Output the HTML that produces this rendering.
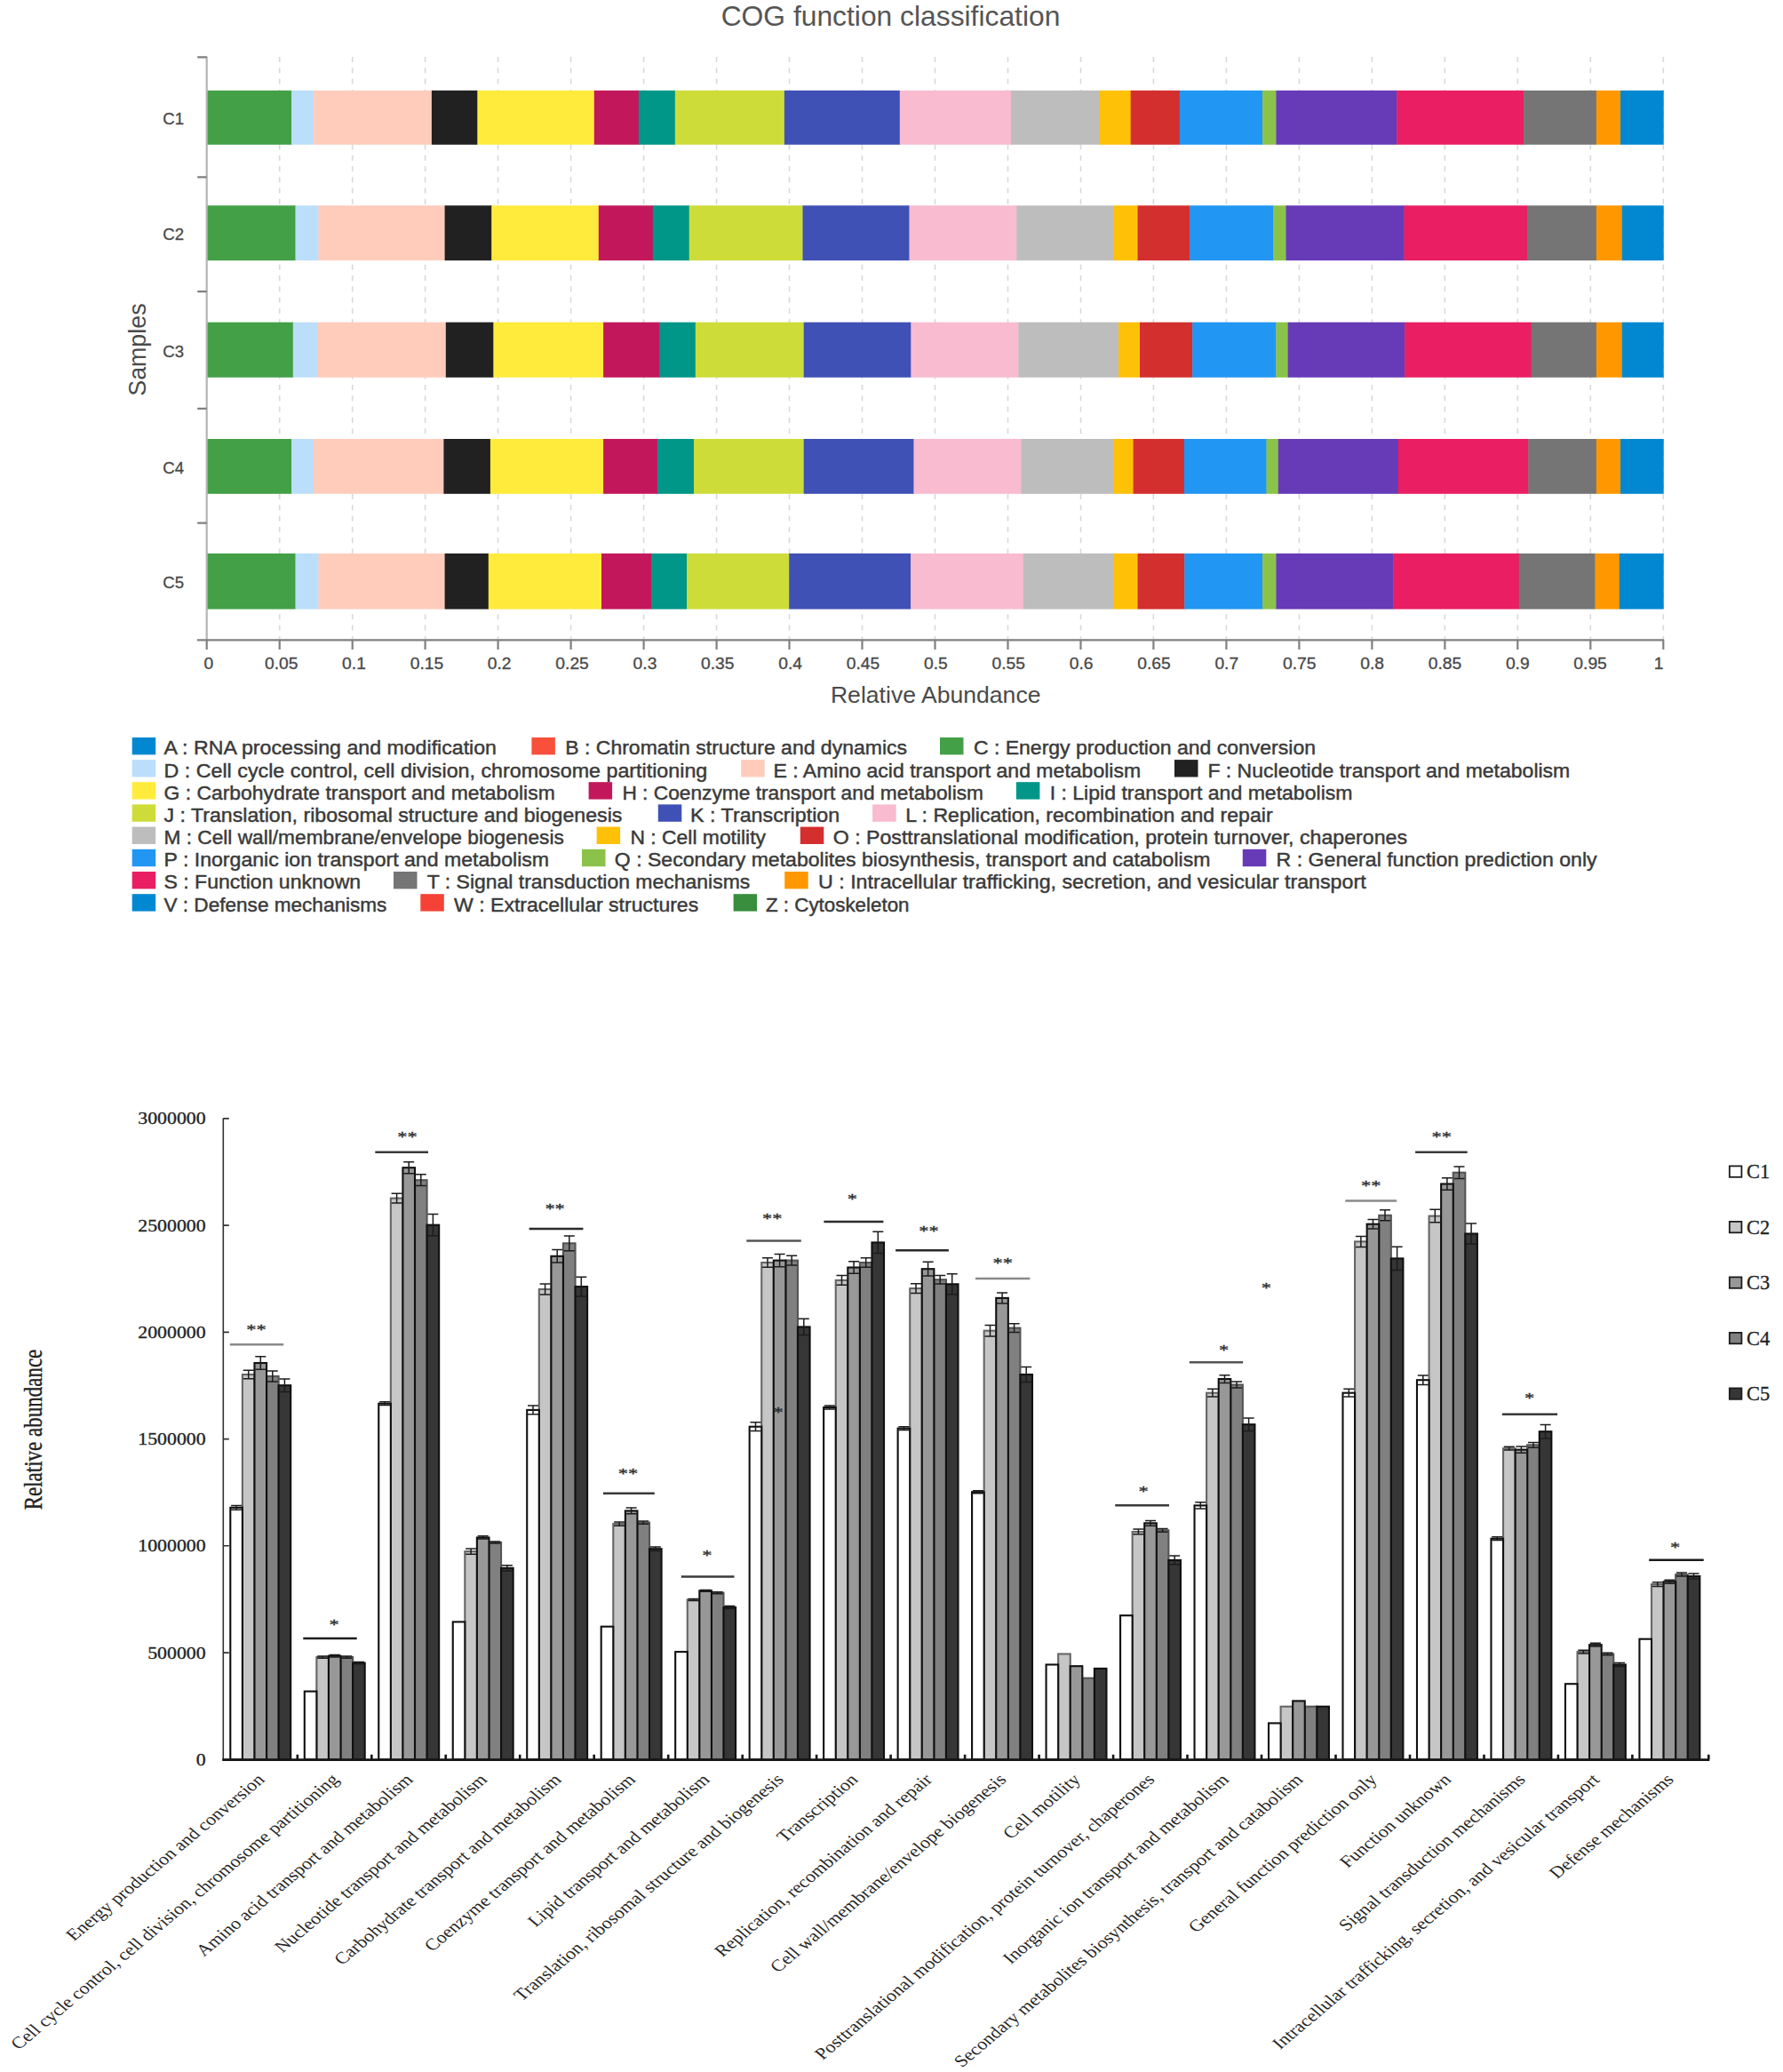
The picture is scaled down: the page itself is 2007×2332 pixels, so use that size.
<!DOCTYPE html>
<html lang="en"><head><meta charset="utf-8"><title>COG function classification</title>
<style>html,body{margin:0;padding:0;background:#fff}svg{display:block}.s{font-family:"Liberation Sans",Arial,sans-serif}.t{font-family:"Liberation Serif","Times New Roman",serif}.t text{stroke:#222;stroke-width:.3px}</style></head><body>
<svg width="2007" height="2332" viewBox="0 0 2007 2332">
<rect width="2007" height="2332" fill="#fff"/>
<g class="s">
<text x="1002.5" y="28.8" font-size="31.8" text-anchor="middle" fill="#555">COG function classification</text>
<path d="M314.7 64.0V720.3M396.7 64.0V720.3M478.6 64.0V720.3M560.6 64.0V720.3M642.6 64.0V720.3M724.6 64.0V720.3M806.6 64.0V720.3M888.5 64.0V720.3M970.5 64.0V720.3M1052.5 64.0V720.3M1134.5 64.0V720.3M1216.5 64.0V720.3M1298.4 64.0V720.3M1380.4 64.0V720.3M1462.4 64.0V720.3M1544.4 64.0V720.3M1626.4 64.0V720.3M1708.3 64.0V720.3M1790.3 64.0V720.3M1872.3 64.0V720.3" stroke="#d8d9e0" stroke-width="1.6" stroke-dasharray="6 6.3" fill="none"/>
<rect x="232.7" y="101.8" width="95.8" height="61.0" fill="#43A047"/>
<rect x="328.1" y="101.8" width="25.4" height="61.0" fill="#BBDEFB"/>
<rect x="353.1" y="101.8" width="133.2" height="61.0" fill="#FFCCBC"/>
<rect x="485.9" y="101.8" width="51.9" height="61.0" fill="#212121"/>
<rect x="537.4" y="101.8" width="131.8" height="61.0" fill="#FFEB3B"/>
<rect x="668.8" y="101.8" width="50.5" height="61.0" fill="#C2185B"/>
<rect x="718.9" y="101.8" width="41.3" height="61.0" fill="#009688"/>
<rect x="759.8" y="101.8" width="123.5" height="61.0" fill="#CDDC39"/>
<rect x="882.9" y="101.8" width="130.3" height="61.0" fill="#3F51B5"/>
<rect x="1012.8" y="101.8" width="125.6" height="61.0" fill="#F8BBD0"/>
<rect x="1138.0" y="101.8" width="100.0" height="61.0" fill="#BDBDBD"/>
<rect x="1237.6" y="101.8" width="35.5" height="61.0" fill="#FFC107"/>
<rect x="1272.7" y="101.8" width="55.4" height="61.0" fill="#D32F2F"/>
<rect x="1327.7" y="101.8" width="93.8" height="61.0" fill="#2196F3"/>
<rect x="1421.1" y="101.8" width="15.7" height="61.0" fill="#8BC34A"/>
<rect x="1436.4" y="101.8" width="136.3" height="61.0" fill="#673AB7"/>
<rect x="1572.3" y="101.8" width="143.2" height="61.0" fill="#E91E63"/>
<rect x="1715.1" y="101.8" width="82.2" height="61.0" fill="#757575"/>
<rect x="1796.9" y="101.8" width="27.5" height="61.0" fill="#FF9800"/>
<rect x="1824.0" y="101.8" width="48.7" height="61.0" fill="#0288D1"/>
<rect x="232.7" y="231.3" width="100.2" height="61.9" fill="#43A047"/>
<rect x="332.5" y="231.3" width="26.3" height="61.9" fill="#BBDEFB"/>
<rect x="358.4" y="231.3" width="142.6" height="61.9" fill="#FFCCBC"/>
<rect x="500.6" y="231.3" width="53.1" height="61.9" fill="#212121"/>
<rect x="553.3" y="231.3" width="120.9" height="61.9" fill="#FFEB3B"/>
<rect x="673.8" y="231.3" width="61.4" height="61.9" fill="#C2185B"/>
<rect x="734.8" y="231.3" width="41.3" height="61.9" fill="#009688"/>
<rect x="775.7" y="231.3" width="128.2" height="61.9" fill="#CDDC39"/>
<rect x="903.5" y="231.3" width="120.4" height="61.9" fill="#3F51B5"/>
<rect x="1023.5" y="231.3" width="121.2" height="61.9" fill="#F8BBD0"/>
<rect x="1144.3" y="231.3" width="109.9" height="61.9" fill="#BDBDBD"/>
<rect x="1253.8" y="231.3" width="27.2" height="61.9" fill="#FFC107"/>
<rect x="1280.6" y="231.3" width="59.0" height="61.9" fill="#D32F2F"/>
<rect x="1339.2" y="231.3" width="94.5" height="61.9" fill="#2196F3"/>
<rect x="1433.3" y="231.3" width="14.6" height="61.9" fill="#8BC34A"/>
<rect x="1447.5" y="231.3" width="133.4" height="61.9" fill="#673AB7"/>
<rect x="1580.5" y="231.3" width="138.8" height="61.9" fill="#E91E63"/>
<rect x="1718.9" y="231.3" width="78.4" height="61.9" fill="#757575"/>
<rect x="1796.9" y="231.3" width="29.3" height="61.9" fill="#FF9800"/>
<rect x="1825.8" y="231.3" width="46.9" height="61.9" fill="#0288D1"/>
<rect x="232.7" y="362.7" width="97.5" height="62.1" fill="#43A047"/>
<rect x="329.8" y="362.7" width="27.5" height="62.1" fill="#BBDEFB"/>
<rect x="356.9" y="362.7" width="145.3" height="62.1" fill="#FFCCBC"/>
<rect x="501.8" y="362.7" width="54.0" height="62.1" fill="#212121"/>
<rect x="555.4" y="362.7" width="124.1" height="62.1" fill="#FFEB3B"/>
<rect x="679.1" y="362.7" width="63.8" height="62.1" fill="#C2185B"/>
<rect x="742.5" y="362.7" width="40.7" height="62.1" fill="#009688"/>
<rect x="782.8" y="362.7" width="122.3" height="62.1" fill="#CDDC39"/>
<rect x="904.7" y="362.7" width="121.1" height="62.1" fill="#3F51B5"/>
<rect x="1025.4" y="362.7" width="121.3" height="62.1" fill="#F8BBD0"/>
<rect x="1146.3" y="362.7" width="113.2" height="62.1" fill="#BDBDBD"/>
<rect x="1259.1" y="362.7" width="24.3" height="62.1" fill="#FFC107"/>
<rect x="1283.0" y="362.7" width="59.6" height="62.1" fill="#D32F2F"/>
<rect x="1342.2" y="362.7" width="94.5" height="62.1" fill="#2196F3"/>
<rect x="1436.3" y="362.7" width="13.8" height="62.1" fill="#8BC34A"/>
<rect x="1449.7" y="362.7" width="131.8" height="62.1" fill="#673AB7"/>
<rect x="1581.1" y="362.7" width="142.9" height="62.1" fill="#E91E63"/>
<rect x="1723.6" y="362.7" width="73.7" height="62.1" fill="#757575"/>
<rect x="1796.9" y="362.7" width="29.3" height="62.1" fill="#FF9800"/>
<rect x="1825.8" y="362.7" width="46.9" height="62.1" fill="#0288D1"/>
<rect x="232.7" y="494.0" width="95.8" height="61.8" fill="#43A047"/>
<rect x="328.1" y="494.0" width="25.1" height="61.8" fill="#BBDEFB"/>
<rect x="352.8" y="494.0" width="147.0" height="61.8" fill="#FFCCBC"/>
<rect x="499.4" y="494.0" width="52.9" height="61.8" fill="#212121"/>
<rect x="551.9" y="494.0" width="127.6" height="61.8" fill="#FFEB3B"/>
<rect x="679.1" y="494.0" width="61.4" height="61.8" fill="#C2185B"/>
<rect x="740.1" y="494.0" width="41.3" height="61.8" fill="#009688"/>
<rect x="781.0" y="494.0" width="124.1" height="61.8" fill="#CDDC39"/>
<rect x="904.7" y="494.0" width="124.2" height="61.8" fill="#3F51B5"/>
<rect x="1028.5" y="494.0" width="121.2" height="61.8" fill="#F8BBD0"/>
<rect x="1149.3" y="494.0" width="104.9" height="61.8" fill="#BDBDBD"/>
<rect x="1253.8" y="494.0" width="22.2" height="61.8" fill="#FFC107"/>
<rect x="1275.6" y="494.0" width="57.8" height="61.8" fill="#D32F2F"/>
<rect x="1333.0" y="494.0" width="92.9" height="61.8" fill="#2196F3"/>
<rect x="1425.5" y="494.0" width="13.7" height="61.8" fill="#8BC34A"/>
<rect x="1438.8" y="494.0" width="135.3" height="61.8" fill="#673AB7"/>
<rect x="1573.7" y="494.0" width="147.1" height="61.8" fill="#E91E63"/>
<rect x="1720.4" y="494.0" width="76.9" height="61.8" fill="#757575"/>
<rect x="1796.9" y="494.0" width="27.5" height="61.8" fill="#FF9800"/>
<rect x="1824.0" y="494.0" width="48.7" height="61.8" fill="#0288D1"/>
<rect x="232.7" y="622.9" width="100.2" height="62.7" fill="#43A047"/>
<rect x="332.5" y="622.9" width="26.3" height="62.7" fill="#BBDEFB"/>
<rect x="358.4" y="622.9" width="142.6" height="62.7" fill="#FFCCBC"/>
<rect x="500.6" y="622.9" width="49.6" height="62.7" fill="#212121"/>
<rect x="549.8" y="622.9" width="127.6" height="62.7" fill="#FFEB3B"/>
<rect x="677.0" y="622.9" width="56.4" height="62.7" fill="#C2185B"/>
<rect x="733.0" y="622.9" width="40.5" height="62.7" fill="#009688"/>
<rect x="773.1" y="622.9" width="115.5" height="62.7" fill="#CDDC39"/>
<rect x="888.2" y="622.9" width="137.3" height="62.7" fill="#3F51B5"/>
<rect x="1025.1" y="622.9" width="127.2" height="62.7" fill="#F8BBD0"/>
<rect x="1151.9" y="622.9" width="102.3" height="62.7" fill="#BDBDBD"/>
<rect x="1253.8" y="622.9" width="27.2" height="62.7" fill="#FFC107"/>
<rect x="1280.6" y="622.9" width="53.1" height="62.7" fill="#D32F2F"/>
<rect x="1333.3" y="622.9" width="88.2" height="62.7" fill="#2196F3"/>
<rect x="1421.1" y="622.9" width="15.7" height="62.7" fill="#8BC34A"/>
<rect x="1436.4" y="622.9" width="132.4" height="62.7" fill="#673AB7"/>
<rect x="1568.4" y="622.9" width="141.8" height="62.7" fill="#E91E63"/>
<rect x="1709.8" y="622.9" width="86.1" height="62.7" fill="#757575"/>
<rect x="1795.5" y="622.9" width="27.7" height="62.7" fill="#FF9800"/>
<rect x="1822.8" y="622.9" width="49.9" height="62.7" fill="#0288D1"/>
<path d="M232.7 63.5V720.3" stroke="#b4b4b4" stroke-width="2.2" fill="none"/>
<path d="M221.89999999999998 720.3H1873.1M222.2 64.3H232.7M222.2 199.3H232.7M222.2 328.2H232.7M222.2 459.8H232.7M222.2 588.6H232.7M232.7 720.3V731.0999999999999M314.7 720.3V731.0999999999999M396.7 720.3V731.0999999999999M478.6 720.3V731.0999999999999M560.6 720.3V731.0999999999999M642.6 720.3V731.0999999999999M724.6 720.3V731.0999999999999M806.6 720.3V731.0999999999999M888.5 720.3V731.0999999999999M970.5 720.3V731.0999999999999M1052.5 720.3V731.0999999999999M1134.5 720.3V731.0999999999999M1216.5 720.3V731.0999999999999M1298.4 720.3V731.0999999999999M1380.4 720.3V731.0999999999999M1462.4 720.3V731.0999999999999M1544.4 720.3V731.0999999999999M1626.4 720.3V731.0999999999999M1708.3 720.3V731.0999999999999M1790.3 720.3V731.0999999999999M1872.3 720.3V731.0999999999999" stroke="#808080" stroke-width="2.2" fill="none"/>
<text transform="translate(234.8 752.8) scale(1.07 1)" font-size="18" text-anchor="middle" fill="#484848" stroke="#484848" stroke-width="0.3">0</text>
<text transform="translate(316.7 752.8) scale(1.07 1)" font-size="18" text-anchor="middle" fill="#484848" stroke="#484848" stroke-width="0.3">0.05</text>
<text transform="translate(398.5 752.8) scale(1.07 1)" font-size="18" text-anchor="middle" fill="#484848" stroke="#484848" stroke-width="0.3">0.1</text>
<text transform="translate(480.4 752.8) scale(1.07 1)" font-size="18" text-anchor="middle" fill="#484848" stroke="#484848" stroke-width="0.3">0.15</text>
<text transform="translate(562.2 752.8) scale(1.07 1)" font-size="18" text-anchor="middle" fill="#484848" stroke="#484848" stroke-width="0.3">0.2</text>
<text transform="translate(644.1 752.8) scale(1.07 1)" font-size="18" text-anchor="middle" fill="#484848" stroke="#484848" stroke-width="0.3">0.25</text>
<text transform="translate(726.0 752.8) scale(1.07 1)" font-size="18" text-anchor="middle" fill="#484848" stroke="#484848" stroke-width="0.3">0.3</text>
<text transform="translate(807.8 752.8) scale(1.07 1)" font-size="18" text-anchor="middle" fill="#484848" stroke="#484848" stroke-width="0.3">0.35</text>
<text transform="translate(889.7 752.8) scale(1.07 1)" font-size="18" text-anchor="middle" fill="#484848" stroke="#484848" stroke-width="0.3">0.4</text>
<text transform="translate(971.5 752.8) scale(1.07 1)" font-size="18" text-anchor="middle" fill="#484848" stroke="#484848" stroke-width="0.3">0.45</text>
<text transform="translate(1053.4 752.8) scale(1.07 1)" font-size="18" text-anchor="middle" fill="#484848" stroke="#484848" stroke-width="0.3">0.5</text>
<text transform="translate(1135.3 752.8) scale(1.07 1)" font-size="18" text-anchor="middle" fill="#484848" stroke="#484848" stroke-width="0.3">0.55</text>
<text transform="translate(1217.1 752.8) scale(1.07 1)" font-size="18" text-anchor="middle" fill="#484848" stroke="#484848" stroke-width="0.3">0.6</text>
<text transform="translate(1299.0 752.8) scale(1.07 1)" font-size="18" text-anchor="middle" fill="#484848" stroke="#484848" stroke-width="0.3">0.65</text>
<text transform="translate(1380.8 752.8) scale(1.07 1)" font-size="18" text-anchor="middle" fill="#484848" stroke="#484848" stroke-width="0.3">0.7</text>
<text transform="translate(1462.7 752.8) scale(1.07 1)" font-size="18" text-anchor="middle" fill="#484848" stroke="#484848" stroke-width="0.3">0.75</text>
<text transform="translate(1544.6 752.8) scale(1.07 1)" font-size="18" text-anchor="middle" fill="#484848" stroke="#484848" stroke-width="0.3">0.8</text>
<text transform="translate(1626.4 752.8) scale(1.07 1)" font-size="18" text-anchor="middle" fill="#484848" stroke="#484848" stroke-width="0.3">0.85</text>
<text transform="translate(1708.3 752.8) scale(1.07 1)" font-size="18" text-anchor="middle" fill="#484848" stroke="#484848" stroke-width="0.3">0.9</text>
<text transform="translate(1790.1 752.8) scale(1.07 1)" font-size="18" text-anchor="middle" fill="#484848" stroke="#484848" stroke-width="0.3">0.95</text>
<text transform="translate(1867.0 752.8) scale(1.07 1)" font-size="18" text-anchor="middle" fill="#484848" stroke="#484848" stroke-width="0.3">1</text>
<text x="207" y="140.3" font-size="18.6" text-anchor="end" fill="#484848" stroke="#484848" stroke-width="0.3">C1</text>
<text x="207" y="270.2" font-size="18.6" text-anchor="end" fill="#484848" stroke="#484848" stroke-width="0.3">C2</text>
<text x="207" y="401.8" font-size="18.6" text-anchor="end" fill="#484848" stroke="#484848" stroke-width="0.3">C3</text>
<text x="207" y="532.9" font-size="18.6" text-anchor="end" fill="#484848" stroke="#484848" stroke-width="0.3">C4</text>
<text x="207" y="662.2" font-size="18.6" text-anchor="end" fill="#484848" stroke="#484848" stroke-width="0.3">C5</text>
<text transform="translate(163.6 393.6) rotate(-90)" font-size="26.8" text-anchor="middle" fill="#4a4a4a">Samples</text>
<text x="1053.2" y="790.8" font-size="26.6" text-anchor="middle" fill="#4a4a4a">Relative Abundance</text>
<rect x="148.7" y="830.0" width="26.5" height="19.4" fill="#0288D1"/>
<text x="184.5" y="849.4" font-size="22.6" textLength="374.5" lengthAdjust="spacingAndGlyphs" fill="#3a3a3a" stroke="#3a3a3a" stroke-width="0.45">A : RNA processing and modification</text>
<rect x="598.4" y="830.0" width="26.5" height="19.4" fill="#F8503A"/>
<text x="636.3" y="849.4" font-size="22.6" textLength="384.7" lengthAdjust="spacingAndGlyphs" fill="#3a3a3a" stroke="#3a3a3a" stroke-width="0.45">B : Chromatin structure and dynamics</text>
<rect x="1058.0" y="830.0" width="26.5" height="19.4" fill="#43A047"/>
<text x="1095.9" y="849.4" font-size="22.6" textLength="385.1" lengthAdjust="spacingAndGlyphs" fill="#3a3a3a" stroke="#3a3a3a" stroke-width="0.45">C : Energy production and conversion</text>
<rect x="148.7" y="855.1" width="26.5" height="19.4" fill="#BBDEFB"/>
<text x="184.5" y="874.5" font-size="22.6" textLength="611.8" lengthAdjust="spacingAndGlyphs" fill="#3a3a3a" stroke="#3a3a3a" stroke-width="0.45">D : Cell cycle control, cell division, chromosome partitioning</text>
<rect x="834.2" y="855.1" width="26.5" height="19.4" fill="#FFCCBC"/>
<text x="870.5" y="874.5" font-size="22.6" textLength="413.7" lengthAdjust="spacingAndGlyphs" fill="#3a3a3a" stroke="#3a3a3a" stroke-width="0.45">E : Amino acid transport and metabolism</text>
<rect x="1322.0" y="855.1" width="26.5" height="19.4" fill="#212121"/>
<text x="1359.4" y="874.5" font-size="22.6" textLength="407.9" lengthAdjust="spacingAndGlyphs" fill="#3a3a3a" stroke="#3a3a3a" stroke-width="0.45">F : Nucleotide transport and metabolism</text>
<rect x="148.7" y="880.2" width="26.5" height="19.4" fill="#FFEB3B"/>
<text x="184.5" y="899.6" font-size="22.6" textLength="440.2" lengthAdjust="spacingAndGlyphs" fill="#3a3a3a" stroke="#3a3a3a" stroke-width="0.45">G : Carbohydrate transport and metabolism</text>
<rect x="662.6" y="880.2" width="26.5" height="19.4" fill="#C2185B"/>
<text x="700.4" y="899.6" font-size="22.6" textLength="406.6" lengthAdjust="spacingAndGlyphs" fill="#3a3a3a" stroke="#3a3a3a" stroke-width="0.45">H : Coenzyme transport and metabolism</text>
<rect x="1143.9" y="880.2" width="26.5" height="19.4" fill="#009688"/>
<text x="1181.7" y="899.6" font-size="22.6" textLength="340.8" lengthAdjust="spacingAndGlyphs" fill="#3a3a3a" stroke="#3a3a3a" stroke-width="0.45">I : Lipid transport and metabolism</text>
<rect x="148.7" y="905.4" width="26.5" height="19.4" fill="#CDDC39"/>
<text x="184.5" y="924.8" font-size="22.6" textLength="515.9" lengthAdjust="spacingAndGlyphs" fill="#3a3a3a" stroke="#3a3a3a" stroke-width="0.45">J : Translation, ribosomal structure and biogenesis</text>
<rect x="740.8" y="905.4" width="26.5" height="19.4" fill="#3F51B5"/>
<text x="777.1" y="924.8" font-size="22.6" textLength="168.1" lengthAdjust="spacingAndGlyphs" fill="#3a3a3a" stroke="#3a3a3a" stroke-width="0.45">K : Transcription</text>
<rect x="982.1" y="905.4" width="26.5" height="19.4" fill="#F8BBD0"/>
<text x="1019.2" y="924.8" font-size="22.6" textLength="413.4" lengthAdjust="spacingAndGlyphs" fill="#3a3a3a" stroke="#3a3a3a" stroke-width="0.45">L : Replication, recombination and repair</text>
<rect x="148.7" y="930.6" width="26.5" height="19.4" fill="#BDBDBD"/>
<text x="184.5" y="950.0" font-size="22.6" textLength="450.3" lengthAdjust="spacingAndGlyphs" fill="#3a3a3a" stroke="#3a3a3a" stroke-width="0.45">M : Cell wall/membrane/envelope biogenesis</text>
<rect x="671.6" y="930.6" width="26.5" height="19.4" fill="#FFC107"/>
<text x="709.5" y="950.0" font-size="22.6" textLength="152.5" lengthAdjust="spacingAndGlyphs" fill="#3a3a3a" stroke="#3a3a3a" stroke-width="0.45">N : Cell motility</text>
<rect x="900.8" y="930.6" width="26.5" height="19.4" fill="#D32F2F"/>
<text x="937.7" y="950.0" font-size="22.6" textLength="646.3" lengthAdjust="spacingAndGlyphs" fill="#3a3a3a" stroke="#3a3a3a" stroke-width="0.45">O : Posttranslational modification, protein turnover, chaperones</text>
<rect x="148.7" y="955.8" width="26.5" height="19.4" fill="#2196F3"/>
<text x="184.5" y="975.2" font-size="22.6" textLength="433.6" lengthAdjust="spacingAndGlyphs" fill="#3a3a3a" stroke="#3a3a3a" stroke-width="0.45">P : Inorganic ion transport and metabolism</text>
<rect x="655.0" y="955.8" width="26.5" height="19.4" fill="#8BC34A"/>
<text x="691.8" y="975.2" font-size="22.6" textLength="670.6" lengthAdjust="spacingAndGlyphs" fill="#3a3a3a" stroke="#3a3a3a" stroke-width="0.45">Q : Secondary metabolites biosynthesis, transport and catabolism</text>
<rect x="1398.8" y="955.8" width="26.5" height="19.4" fill="#673AB7"/>
<text x="1436.6" y="975.2" font-size="22.6" textLength="361.0" lengthAdjust="spacingAndGlyphs" fill="#3a3a3a" stroke="#3a3a3a" stroke-width="0.45">R : General function prediction only</text>
<rect x="148.7" y="981.0" width="26.5" height="19.4" fill="#E91E63"/>
<text x="184.5" y="1000.4" font-size="22.6" textLength="221.6" lengthAdjust="spacingAndGlyphs" fill="#3a3a3a" stroke="#3a3a3a" stroke-width="0.45">S : Function unknown</text>
<rect x="443.0" y="981.0" width="26.5" height="19.4" fill="#757575"/>
<text x="480.8" y="1000.4" font-size="22.6" textLength="363.5" lengthAdjust="spacingAndGlyphs" fill="#3a3a3a" stroke="#3a3a3a" stroke-width="0.45">T : Signal transduction mechanisms</text>
<rect x="883.2" y="981.0" width="26.5" height="19.4" fill="#FF9800"/>
<text x="921.0" y="1000.4" font-size="22.6" textLength="616.6" lengthAdjust="spacingAndGlyphs" fill="#3a3a3a" stroke="#3a3a3a" stroke-width="0.45">U : Intracellular trafficking, secretion, and vesicular transport</text>
<rect x="148.7" y="1006.2" width="26.5" height="19.4" fill="#0288D1"/>
<text x="184.5" y="1025.6" font-size="22.6" textLength="250.9" lengthAdjust="spacingAndGlyphs" fill="#3a3a3a" stroke="#3a3a3a" stroke-width="0.45">V : Defense mechanisms</text>
<rect x="473.3" y="1006.2" width="26.5" height="19.4" fill="#F44336"/>
<text x="511.1" y="1025.6" font-size="22.6" textLength="275.1" lengthAdjust="spacingAndGlyphs" fill="#3a3a3a" stroke="#3a3a3a" stroke-width="0.45">W : Extracellular structures</text>
<rect x="825.6" y="1006.2" width="26.5" height="19.4" fill="#388E3C"/>
<text x="862.0" y="1025.6" font-size="22.6" textLength="161.5" lengthAdjust="spacingAndGlyphs" fill="#3a3a3a" stroke="#3a3a3a" stroke-width="0.45">Z : Cytoskeleton</text>
</g>
<g class="t">
<rect x="272.88" y="1547.0" width="13.58" height="433.3" fill="#c6c6c6" stroke="#666" stroke-width="2.1"/>
<rect x="300.04" y="1548.9" width="13.58" height="431.4" fill="#808080" stroke="#555" stroke-width="2.1"/>
<rect x="259.30" y="1696.8" width="13.58" height="283.5" fill="#ffffff" stroke="#101010" stroke-width="2.1"/>
<rect x="286.46" y="1534.0" width="13.58" height="446.3" fill="#989898" stroke="#101010" stroke-width="2.1"/>
<rect x="313.62" y="1559.2" width="13.58" height="421.1" fill="#363636" stroke="#101010" stroke-width="2.1"/>
<rect x="356.36" y="1865.1" width="13.58" height="115.2" fill="#c6c6c6" stroke="#666" stroke-width="2.1"/>
<rect x="383.52" y="1865.1" width="13.58" height="115.2" fill="#808080" stroke="#555" stroke-width="2.1"/>
<rect x="342.78" y="1903.6" width="13.58" height="76.7" fill="#ffffff" stroke="#101010" stroke-width="2.1"/>
<rect x="369.94" y="1863.7" width="13.58" height="116.6" fill="#989898" stroke="#101010" stroke-width="2.1"/>
<rect x="397.10" y="1871.6" width="13.58" height="108.7" fill="#363636" stroke="#101010" stroke-width="2.1"/>
<rect x="439.84" y="1348.6" width="13.58" height="631.7" fill="#c6c6c6" stroke="#666" stroke-width="2.1"/>
<rect x="467.00" y="1328.2" width="13.58" height="652.1" fill="#808080" stroke="#555" stroke-width="2.1"/>
<rect x="426.26" y="1579.7" width="13.58" height="400.6" fill="#ffffff" stroke="#101010" stroke-width="2.1"/>
<rect x="453.42" y="1314.2" width="13.58" height="666.1" fill="#989898" stroke="#101010" stroke-width="2.1"/>
<rect x="480.58" y="1378.7" width="13.58" height="601.6" fill="#363636" stroke="#101010" stroke-width="2.1"/>
<rect x="523.32" y="1746.1" width="13.58" height="234.2" fill="#c6c6c6" stroke="#666" stroke-width="2.1"/>
<rect x="550.48" y="1736.0" width="13.58" height="244.3" fill="#808080" stroke="#555" stroke-width="2.1"/>
<rect x="509.74" y="1825.4" width="13.58" height="154.9" fill="#ffffff" stroke="#101010" stroke-width="2.1"/>
<rect x="536.90" y="1730.5" width="13.58" height="249.8" fill="#989898" stroke="#101010" stroke-width="2.1"/>
<rect x="564.06" y="1764.8" width="13.58" height="215.5" fill="#363636" stroke="#101010" stroke-width="2.1"/>
<rect x="606.80" y="1451.0" width="13.58" height="529.3" fill="#c6c6c6" stroke="#666" stroke-width="2.1"/>
<rect x="633.96" y="1399.3" width="13.58" height="581.0" fill="#808080" stroke="#555" stroke-width="2.1"/>
<rect x="593.22" y="1586.9" width="13.58" height="393.4" fill="#ffffff" stroke="#101010" stroke-width="2.1"/>
<rect x="620.38" y="1413.8" width="13.58" height="566.5" fill="#989898" stroke="#101010" stroke-width="2.1"/>
<rect x="647.54" y="1448.1" width="13.58" height="532.2" fill="#363636" stroke="#101010" stroke-width="2.1"/>
<rect x="690.28" y="1715.1" width="13.58" height="265.2" fill="#c6c6c6" stroke="#666" stroke-width="2.1"/>
<rect x="717.44" y="1713.6" width="13.58" height="266.7" fill="#808080" stroke="#555" stroke-width="2.1"/>
<rect x="676.70" y="1830.7" width="13.58" height="149.6" fill="#ffffff" stroke="#101010" stroke-width="2.1"/>
<rect x="703.86" y="1700.4" width="13.58" height="279.9" fill="#989898" stroke="#101010" stroke-width="2.1"/>
<rect x="731.02" y="1743.2" width="13.58" height="237.1" fill="#363636" stroke="#101010" stroke-width="2.1"/>
<rect x="773.76" y="1800.4" width="13.58" height="179.9" fill="#c6c6c6" stroke="#666" stroke-width="2.1"/>
<rect x="800.92" y="1792.7" width="13.58" height="187.6" fill="#808080" stroke="#555" stroke-width="2.1"/>
<rect x="760.18" y="1859.1" width="13.58" height="121.2" fill="#ffffff" stroke="#101010" stroke-width="2.1"/>
<rect x="787.34" y="1790.3" width="13.58" height="190.0" fill="#989898" stroke="#101010" stroke-width="2.1"/>
<rect x="814.50" y="1809.1" width="13.58" height="171.2" fill="#363636" stroke="#101010" stroke-width="2.1"/>
<rect x="857.24" y="1421.0" width="13.58" height="559.3" fill="#c6c6c6" stroke="#666" stroke-width="2.1"/>
<rect x="884.40" y="1418.6" width="13.58" height="561.7" fill="#808080" stroke="#555" stroke-width="2.1"/>
<rect x="843.66" y="1605.7" width="13.58" height="374.6" fill="#ffffff" stroke="#101010" stroke-width="2.1"/>
<rect x="870.82" y="1418.6" width="13.58" height="561.7" fill="#989898" stroke="#101010" stroke-width="2.1"/>
<rect x="897.98" y="1493.4" width="13.58" height="486.9" fill="#363636" stroke="#101010" stroke-width="2.1"/>
<rect x="940.72" y="1440.9" width="13.58" height="539.4" fill="#c6c6c6" stroke="#666" stroke-width="2.1"/>
<rect x="967.88" y="1421.0" width="13.58" height="559.3" fill="#808080" stroke="#555" stroke-width="2.1"/>
<rect x="927.14" y="1584.0" width="13.58" height="396.3" fill="#ffffff" stroke="#101010" stroke-width="2.1"/>
<rect x="954.30" y="1426.5" width="13.58" height="553.8" fill="#989898" stroke="#101010" stroke-width="2.1"/>
<rect x="981.46" y="1398.4" width="13.58" height="581.9" fill="#363636" stroke="#101010" stroke-width="2.1"/>
<rect x="1024.20" y="1450.1" width="13.58" height="530.2" fill="#c6c6c6" stroke="#666" stroke-width="2.1"/>
<rect x="1051.36" y="1440.2" width="13.58" height="540.1" fill="#808080" stroke="#555" stroke-width="2.1"/>
<rect x="1010.62" y="1607.6" width="13.58" height="372.7" fill="#ffffff" stroke="#101010" stroke-width="2.1"/>
<rect x="1037.78" y="1428.2" width="13.58" height="552.1" fill="#989898" stroke="#101010" stroke-width="2.1"/>
<rect x="1064.94" y="1445.3" width="13.58" height="535.0" fill="#363636" stroke="#101010" stroke-width="2.1"/>
<rect x="1107.68" y="1497.7" width="13.58" height="482.6" fill="#c6c6c6" stroke="#666" stroke-width="2.1"/>
<rect x="1134.84" y="1494.6" width="13.58" height="485.7" fill="#808080" stroke="#555" stroke-width="2.1"/>
<rect x="1094.10" y="1679.2" width="13.58" height="301.1" fill="#ffffff" stroke="#101010" stroke-width="2.1"/>
<rect x="1121.26" y="1460.9" width="13.58" height="519.4" fill="#989898" stroke="#101010" stroke-width="2.1"/>
<rect x="1148.42" y="1547.0" width="13.58" height="433.3" fill="#363636" stroke="#101010" stroke-width="2.1"/>
<rect x="1191.16" y="1861.5" width="13.58" height="118.8" fill="#c6c6c6" stroke="#666" stroke-width="2.1"/>
<rect x="1218.32" y="1888.7" width="13.58" height="91.6" fill="#808080" stroke="#555" stroke-width="2.1"/>
<rect x="1177.58" y="1873.5" width="13.58" height="106.8" fill="#ffffff" stroke="#101010" stroke-width="2.1"/>
<rect x="1204.74" y="1875.2" width="13.58" height="105.1" fill="#989898" stroke="#101010" stroke-width="2.1"/>
<rect x="1231.90" y="1877.9" width="13.58" height="102.4" fill="#363636" stroke="#101010" stroke-width="2.1"/>
<rect x="1274.64" y="1724.0" width="13.58" height="256.3" fill="#c6c6c6" stroke="#666" stroke-width="2.1"/>
<rect x="1301.80" y="1722.3" width="13.58" height="258.0" fill="#808080" stroke="#555" stroke-width="2.1"/>
<rect x="1261.06" y="1818.2" width="13.58" height="162.1" fill="#ffffff" stroke="#101010" stroke-width="2.1"/>
<rect x="1288.22" y="1714.3" width="13.58" height="266.0" fill="#989898" stroke="#101010" stroke-width="2.1"/>
<rect x="1315.38" y="1755.9" width="13.58" height="224.4" fill="#363636" stroke="#101010" stroke-width="2.1"/>
<rect x="1358.12" y="1567.7" width="13.58" height="412.6" fill="#c6c6c6" stroke="#666" stroke-width="2.1"/>
<rect x="1385.28" y="1558.5" width="13.58" height="421.8" fill="#808080" stroke="#555" stroke-width="2.1"/>
<rect x="1344.54" y="1694.4" width="13.58" height="285.9" fill="#ffffff" stroke="#101010" stroke-width="2.1"/>
<rect x="1371.70" y="1552.0" width="13.58" height="428.3" fill="#989898" stroke="#101010" stroke-width="2.1"/>
<rect x="1398.86" y="1603.2" width="13.58" height="377.1" fill="#363636" stroke="#101010" stroke-width="2.1"/>
<rect x="1441.60" y="1920.7" width="13.58" height="59.6" fill="#c6c6c6" stroke="#666" stroke-width="2.1"/>
<rect x="1468.76" y="1920.7" width="13.58" height="59.6" fill="#808080" stroke="#555" stroke-width="2.1"/>
<rect x="1428.02" y="1939.4" width="13.58" height="40.9" fill="#ffffff" stroke="#101010" stroke-width="2.1"/>
<rect x="1455.18" y="1914.4" width="13.58" height="65.9" fill="#989898" stroke="#101010" stroke-width="2.1"/>
<rect x="1482.34" y="1920.7" width="13.58" height="59.6" fill="#363636" stroke="#101010" stroke-width="2.1"/>
<rect x="1525.08" y="1397.4" width="13.58" height="582.9" fill="#c6c6c6" stroke="#666" stroke-width="2.1"/>
<rect x="1552.24" y="1367.8" width="13.58" height="612.5" fill="#808080" stroke="#555" stroke-width="2.1"/>
<rect x="1511.50" y="1567.7" width="13.58" height="412.6" fill="#ffffff" stroke="#101010" stroke-width="2.1"/>
<rect x="1538.66" y="1377.7" width="13.58" height="602.6" fill="#989898" stroke="#101010" stroke-width="2.1"/>
<rect x="1565.82" y="1416.4" width="13.58" height="563.9" fill="#363636" stroke="#101010" stroke-width="2.1"/>
<rect x="1608.56" y="1368.6" width="13.58" height="611.7" fill="#c6c6c6" stroke="#666" stroke-width="2.1"/>
<rect x="1635.72" y="1319.7" width="13.58" height="660.6" fill="#808080" stroke="#555" stroke-width="2.1"/>
<rect x="1594.98" y="1553.2" width="13.58" height="427.1" fill="#ffffff" stroke="#101010" stroke-width="2.1"/>
<rect x="1622.14" y="1332.5" width="13.58" height="647.8" fill="#989898" stroke="#101010" stroke-width="2.1"/>
<rect x="1649.30" y="1388.5" width="13.58" height="591.8" fill="#363636" stroke="#101010" stroke-width="2.1"/>
<rect x="1692.04" y="1630.2" width="13.58" height="350.1" fill="#c6c6c6" stroke="#666" stroke-width="2.1"/>
<rect x="1719.20" y="1626.3" width="13.58" height="354.0" fill="#808080" stroke="#555" stroke-width="2.1"/>
<rect x="1678.46" y="1731.7" width="13.58" height="248.6" fill="#ffffff" stroke="#101010" stroke-width="2.1"/>
<rect x="1705.62" y="1631.6" width="13.58" height="348.7" fill="#989898" stroke="#101010" stroke-width="2.1"/>
<rect x="1732.78" y="1611.2" width="13.58" height="369.1" fill="#363636" stroke="#101010" stroke-width="2.1"/>
<rect x="1775.52" y="1859.1" width="13.58" height="121.2" fill="#c6c6c6" stroke="#666" stroke-width="2.1"/>
<rect x="1802.68" y="1861.5" width="13.58" height="118.8" fill="#808080" stroke="#555" stroke-width="2.1"/>
<rect x="1761.94" y="1895.2" width="13.58" height="85.1" fill="#ffffff" stroke="#101010" stroke-width="2.1"/>
<rect x="1789.10" y="1851.2" width="13.58" height="129.1" fill="#989898" stroke="#101010" stroke-width="2.1"/>
<rect x="1816.26" y="1873.5" width="13.58" height="106.8" fill="#363636" stroke="#101010" stroke-width="2.1"/>
<rect x="1859.00" y="1783.1" width="13.58" height="197.2" fill="#c6c6c6" stroke="#666" stroke-width="2.1"/>
<rect x="1886.16" y="1772.1" width="13.58" height="208.2" fill="#808080" stroke="#555" stroke-width="2.1"/>
<rect x="1845.42" y="1844.7" width="13.58" height="135.6" fill="#ffffff" stroke="#101010" stroke-width="2.1"/>
<rect x="1872.58" y="1780.2" width="13.58" height="200.1" fill="#989898" stroke="#101010" stroke-width="2.1"/>
<rect x="1899.74" y="1774.0" width="13.58" height="206.3" fill="#363636" stroke="#101010" stroke-width="2.1"/>
<path d="M266.1 1694.4V1699.2M260.1 1694.4h12M260.1 1699.2h12M279.7 1542.2V1551.8M273.7 1542.2h12M273.7 1551.8h12M293.3 1526.8V1541.2M287.3 1526.8h12M287.3 1541.2h12M306.8 1542.9V1554.9M300.8 1542.9h12M300.8 1554.9h12M320.4 1552.0V1566.5M314.4 1552.0h12M314.4 1566.5h12M363.2 1863.9V1866.3M357.2 1863.9h12M357.2 1866.3h12M376.7 1862.5V1864.9M370.7 1862.5h12M370.7 1864.9h12M390.3 1863.9V1866.3M384.3 1863.9h12M384.3 1866.3h12M403.9 1870.4V1872.8M397.9 1870.4h12M397.9 1872.8h12M433.1 1577.8V1581.6M427.1 1577.8h12M427.1 1581.6h12M446.6 1343.3V1353.9M440.6 1343.3h12M440.6 1353.9h12M460.2 1307.7V1320.7M454.2 1307.7h12M454.2 1320.7h12M473.8 1321.7V1334.6M467.8 1321.7h12M467.8 1334.6h12M487.4 1366.6V1390.7M481.4 1366.6h12M481.4 1390.7h12M530.1 1743.0V1749.2M524.1 1743.0h12M524.1 1749.2h12M543.7 1728.8V1732.1M537.7 1728.8h12M537.7 1732.1h12M557.3 1735.0V1736.9M551.3 1735.0h12M551.3 1736.9h12M570.9 1761.7V1768.0M564.9 1761.7h12M564.9 1768.0h12M600.0 1582.1V1591.7M594.0 1582.1h12M594.0 1591.7h12M613.6 1445.0V1457.0M607.6 1445.0h12M607.6 1457.0h12M627.2 1406.5V1421.0M621.2 1406.5h12M621.2 1421.0h12M640.8 1390.9V1407.7M634.8 1390.9h12M634.8 1407.7h12M654.3 1437.3V1459.0M648.3 1437.3h12M648.3 1459.0h12M697.1 1712.9V1717.2M691.1 1712.9h12M691.1 1717.2h12M710.6 1697.0V1703.8M704.6 1697.0h12M704.6 1703.8h12M724.2 1711.9V1715.3M718.2 1711.9h12M718.2 1715.3h12M737.8 1741.0V1745.4M731.8 1741.0h12M731.8 1745.4h12M780.6 1799.5V1801.4M774.6 1799.5h12M774.6 1801.4h12M794.1 1789.4V1791.3M788.1 1789.4h12M788.1 1791.3h12M807.7 1791.8V1793.7M801.7 1791.8h12M801.7 1793.7h12M821.3 1807.6V1810.5M815.3 1807.6h12M815.3 1810.5h12M850.5 1600.8V1610.5M844.5 1600.8h12M844.5 1610.5h12M864.0 1415.7V1426.3M858.0 1415.7h12M858.0 1426.3h12M877.6 1411.4V1425.8M871.6 1411.4h12M871.6 1425.8h12M891.2 1413.3V1423.9M885.2 1413.3h12M885.2 1423.9h12M904.8 1484.2V1502.5M898.8 1484.2h12M898.8 1502.5h12M933.9 1582.1V1585.9M927.9 1582.1h12M927.9 1585.9h12M947.5 1435.6V1446.2M941.5 1435.6h12M941.5 1446.2h12M961.1 1419.8V1433.2M955.1 1419.8h12M955.1 1433.2h12M974.7 1415.7V1426.3M968.7 1415.7h12M968.7 1426.3h12M988.3 1386.3V1410.4M982.3 1386.3h12M982.3 1410.4h12M1017.4 1605.7V1609.5M1011.4 1605.7h12M1011.4 1609.5h12M1031.0 1444.8V1455.4M1025.0 1444.8h12M1025.0 1455.4h12M1044.6 1420.3V1436.1M1038.6 1420.3h12M1038.6 1436.1h12M1058.2 1435.4V1445.0M1052.2 1435.4h12M1052.2 1445.0h12M1071.7 1433.7V1456.8M1065.7 1433.7h12M1065.7 1456.8h12M1100.9 1677.8V1680.7M1094.9 1677.8h12M1094.9 1680.7h12M1114.5 1491.4V1503.9M1108.5 1491.4h12M1108.5 1503.9h12M1128.1 1454.9V1466.9M1122.1 1454.9h12M1122.1 1466.9h12M1141.6 1489.7V1499.4M1135.6 1489.7h12M1135.6 1499.4h12M1155.2 1538.6V1555.4M1149.2 1538.6h12M1149.2 1555.4h12M1281.4 1721.1V1726.8M1275.4 1721.1h12M1275.4 1726.8h12M1295.0 1711.5V1717.2M1289.0 1711.5h12M1289.0 1717.2h12M1308.6 1720.4V1724.2M1302.6 1720.4h12M1302.6 1724.2h12M1322.2 1751.1V1760.8M1316.2 1751.1h12M1316.2 1760.8h12M1351.3 1690.8V1698.0M1345.3 1690.8h12M1345.3 1698.0h12M1364.9 1563.3V1572.0M1358.9 1563.3h12M1358.9 1572.0h12M1378.5 1547.7V1556.4M1372.5 1547.7h12M1372.5 1556.4h12M1392.1 1554.9V1562.1M1386.1 1554.9h12M1386.1 1562.1h12M1405.6 1596.0V1610.5M1399.6 1596.0h12M1399.6 1610.5h12M1518.3 1563.3V1572.0M1512.3 1563.3h12M1512.3 1572.0h12M1531.9 1391.4V1403.4M1525.9 1391.4h12M1525.9 1403.4h12M1545.5 1372.4V1383.0M1539.5 1372.4h12M1539.5 1383.0h12M1559.0 1361.8V1373.8M1553.0 1361.8h12M1553.0 1373.8h12M1572.6 1403.2V1429.6M1566.6 1403.2h12M1566.6 1429.6h12M1601.8 1547.9V1558.5M1595.8 1547.9h12M1595.8 1558.5h12M1615.3 1361.3V1375.8M1609.3 1361.3h12M1609.3 1375.8h12M1628.9 1325.7V1339.2M1622.9 1325.7h12M1622.9 1339.2h12M1642.5 1313.0V1326.5M1636.5 1313.0h12M1636.5 1326.5h12M1656.1 1377.0V1400.1M1650.1 1377.0h12M1650.1 1400.1h12M1685.2 1729.7V1733.6M1679.2 1729.7h12M1679.2 1733.6h12M1698.8 1628.3V1632.1M1692.8 1628.3h12M1692.8 1632.1h12M1712.4 1628.0V1635.2M1706.4 1628.0h12M1706.4 1635.2h12M1726.0 1623.4V1629.2M1720.0 1623.4h12M1720.0 1629.2h12M1739.6 1603.5V1618.9M1733.6 1603.5h12M1733.6 1618.9h12M1782.3 1857.2V1861.0M1776.3 1857.2h12M1776.3 1861.0h12M1795.9 1849.2V1853.1M1789.9 1849.2h12M1789.9 1853.1h12M1809.5 1860.3V1862.7M1803.5 1860.3h12M1803.5 1862.7h12M1823.0 1871.6V1875.5M1817.0 1871.6h12M1817.0 1875.5h12M1865.8 1780.7V1785.5M1859.8 1780.7h12M1859.8 1785.5h12M1879.4 1778.3V1782.2M1873.4 1778.3h12M1873.4 1782.2h12M1893.0 1770.1V1774.0M1887.0 1770.1h12M1887.0 1774.0h12M1906.5 1771.1V1776.9M1900.5 1771.1h12M1900.5 1776.9h12" stroke="#1c1c1c" stroke-width="1.5" fill="none"/>
<path d="M251.3 1258.4V1981.3M251.3 1980.3h6.5M251.3 1860.1h6.5M251.3 1739.8h6.5M251.3 1619.6h6.5M251.3 1499.4h6.5M251.3 1379.1h6.5M251.3 1258.9h6.5" stroke="#333" stroke-width="1.6" fill="none"/>
<path d="M250.3 1980.6H1924.3M334.8 1980.3v-5.5M418.3 1980.3v-5.5M501.7 1980.3v-5.5M585.2 1980.3v-5.5M668.7 1980.3v-5.5M752.2 1980.3v-5.5M835.7 1980.3v-5.5M919.1 1980.3v-5.5M1002.6 1980.3v-5.5M1086.1 1980.3v-5.5M1169.6 1980.3v-5.5M1253.1 1980.3v-5.5M1336.5 1980.3v-5.5M1420.0 1980.3v-5.5M1503.5 1980.3v-5.5M1587.0 1980.3v-5.5M1670.5 1980.3v-5.5M1753.9 1980.3v-5.5M1837.4 1980.3v-5.5M1923.3 1980.3v-5.5" stroke="#161616" stroke-width="2.6" fill="none"/>
<text x="231.6" y="1986.8" font-size="18.2" text-anchor="end" textLength="10.9" lengthAdjust="spacingAndGlyphs" fill="#222">0</text>
<text x="231.6" y="1866.6" font-size="18.2" text-anchor="end" textLength="65.4" lengthAdjust="spacingAndGlyphs" fill="#222">500000</text>
<text x="231.6" y="1746.3" font-size="18.2" text-anchor="end" textLength="76.3" lengthAdjust="spacingAndGlyphs" fill="#222">1000000</text>
<text x="231.6" y="1626.1" font-size="18.2" text-anchor="end" textLength="76.3" lengthAdjust="spacingAndGlyphs" fill="#222">1500000</text>
<text x="231.6" y="1505.9" font-size="18.2" text-anchor="end" textLength="76.3" lengthAdjust="spacingAndGlyphs" fill="#222">2000000</text>
<text x="231.6" y="1385.6" font-size="18.2" text-anchor="end" textLength="76.3" lengthAdjust="spacingAndGlyphs" fill="#222">2500000</text>
<text x="231.6" y="1265.4" font-size="18.2" text-anchor="end" textLength="76.3" lengthAdjust="spacingAndGlyphs" fill="#222">3000000</text>
<text transform="translate(46.6 1609) scale(1.3 1) rotate(-90)" font-size="23" text-anchor="middle" fill="#222">Relative abundance</text>
<path d="M258.8 1513.3H319.2" stroke="#8a8a8a" stroke-width="2.5"/>
<text transform="translate(288.4 1502.3) scale(1.4 1)" font-size="16" text-anchor="middle" fill="#333" stroke="#333" stroke-width="0.4">**</text>
<path d="M341.3 1844H401.7" stroke="#1c1c1c" stroke-width="2.5"/>
<text transform="translate(376 1833.6) scale(1.4 1)" font-size="16" text-anchor="middle" fill="#333" stroke="#333" stroke-width="0.4">*</text>
<path d="M422.3 1296.8H482" stroke="#3a3a3a" stroke-width="2.5"/>
<text transform="translate(458.5 1284.6) scale(1.4 1)" font-size="16" text-anchor="middle" fill="#333" stroke="#333" stroke-width="0.4">**</text>
<path d="M595.6 1383H656.4" stroke="#2a2a2a" stroke-width="2.5"/>
<text transform="translate(624.6 1366.0) scale(1.4 1)" font-size="16" text-anchor="middle" fill="#333" stroke="#333" stroke-width="0.4">**</text>
<path d="M678.9 1680.8H736.8" stroke="#3a3a3a" stroke-width="2.5"/>
<text transform="translate(707 1663.5) scale(1.4 1)" font-size="16" text-anchor="middle" fill="#333" stroke="#333" stroke-width="0.4">**</text>
<path d="M766.8 1774.6H826.5" stroke="#3a3a3a" stroke-width="2.5"/>
<text transform="translate(795.8 1755.8) scale(1.4 1)" font-size="16" text-anchor="middle" fill="#333" stroke="#333" stroke-width="0.4">*</text>
<path d="M840.3 1396.4H901.8" stroke="#555" stroke-width="2.5"/>
<text transform="translate(869.2 1376.9) scale(1.4 1)" font-size="16" text-anchor="middle" fill="#333" stroke="#333" stroke-width="0.4">**</text>
<path d="M927.4 1375H994.4" stroke="#2a2a2a" stroke-width="2.5"/>
<text transform="translate(959.3 1354.8) scale(1.4 1)" font-size="16" text-anchor="middle" fill="#333" stroke="#333" stroke-width="0.4">*</text>
<path d="M1008.1 1407.2H1067.9" stroke="#2a2a2a" stroke-width="2.5"/>
<text transform="translate(1045.4 1391.3) scale(1.4 1)" font-size="16" text-anchor="middle" fill="#333" stroke="#333" stroke-width="0.4">**</text>
<path d="M1097.9 1439H1159.4" stroke="#8a8a8a" stroke-width="2.5"/>
<text transform="translate(1128.7 1427.2) scale(1.4 1)" font-size="16" text-anchor="middle" fill="#333" stroke="#333" stroke-width="0.4">**</text>
<path d="M1255.2 1694.2H1316" stroke="#3a3a3a" stroke-width="2.5"/>
<text transform="translate(1287 1684.1) scale(1.4 1)" font-size="16" text-anchor="middle" fill="#333" stroke="#333" stroke-width="0.4">*</text>
<path d="M1338.8 1533.2H1399.2" stroke="#555" stroke-width="2.5"/>
<text transform="translate(1377.5 1525.3) scale(1.4 1)" font-size="16" text-anchor="middle" fill="#333" stroke="#333" stroke-width="0.4">*</text>
<path d="M1514.3 1351.5H1572.2" stroke="#8a8a8a" stroke-width="2.5"/>
<text transform="translate(1543.3 1339.6) scale(1.4 1)" font-size="16" text-anchor="middle" fill="#333" stroke="#333" stroke-width="0.4">**</text>
<path d="M1593.1 1296.8H1651.7" stroke="#3a3a3a" stroke-width="2.5"/>
<text transform="translate(1622.8 1284.6) scale(1.4 1)" font-size="16" text-anchor="middle" fill="#333" stroke="#333" stroke-width="0.4">**</text>
<path d="M1690.8 1591.8H1753.1" stroke="#3a3a3a" stroke-width="2.5"/>
<text transform="translate(1721.6 1578.5) scale(1.4 1)" font-size="16" text-anchor="middle" fill="#333" stroke="#333" stroke-width="0.4">*</text>
<path d="M1856.2 1755.7H1917.7" stroke="#1c1c1c" stroke-width="2.5"/>
<text transform="translate(1885.5 1746.8) scale(1.4 1)" font-size="16" text-anchor="middle" fill="#333" stroke="#333" stroke-width="0.4">*</text>
<text transform="translate(876 1594.7) scale(1.4 1)" font-size="16" text-anchor="middle" fill="#333" stroke="#333" stroke-width="0.4">*</text>
<text transform="translate(1425.3 1455.4) scale(1.4 1)" font-size="16" text-anchor="middle" fill="#333" stroke="#333" stroke-width="0.4">*</text>
<text transform="translate(299.0 2004) scale(1.19 1) rotate(-45)" font-size="18.6" text-anchor="end" fill="#262626" style="stroke:none">Energy production and conversion</text>
<text transform="translate(382.5 2004) scale(1.19 1) rotate(-45)" font-size="18.6" text-anchor="end" fill="#262626" style="stroke:none">Cell cycle control, cell division, chromosome partitioning</text>
<text transform="translate(466.0 2004) scale(1.19 1) rotate(-45)" font-size="18.6" text-anchor="end" fill="#262626" style="stroke:none">Amino acid transport and metabolism</text>
<text transform="translate(549.5 2004) scale(1.19 1) rotate(-45)" font-size="18.6" text-anchor="end" fill="#262626" style="stroke:none">Nucleotide transport and metabolism</text>
<text transform="translate(633.0 2004) scale(1.19 1) rotate(-45)" font-size="18.6" text-anchor="end" fill="#262626" style="stroke:none">Carbohydrate transport and metabolism</text>
<text transform="translate(716.4 2004) scale(1.19 1) rotate(-45)" font-size="18.6" text-anchor="end" fill="#262626" style="stroke:none">Coenzyme transport and metabolism</text>
<text transform="translate(799.9 2004) scale(1.19 1) rotate(-45)" font-size="18.6" text-anchor="end" fill="#262626" style="stroke:none">Lipid transport and metabolism</text>
<text transform="translate(883.4 2004) scale(1.19 1) rotate(-45)" font-size="18.6" text-anchor="end" fill="#262626" style="stroke:none">Translation, ribosomal structure and biogenesis</text>
<text transform="translate(966.9 2004) scale(1.19 1) rotate(-45)" font-size="18.6" text-anchor="end" fill="#262626" style="stroke:none">Transcription</text>
<text transform="translate(1050.4 2004) scale(1.19 1) rotate(-45)" font-size="18.6" text-anchor="end" fill="#262626" style="stroke:none">Replication, recombination and repair</text>
<text transform="translate(1133.8 2004) scale(1.19 1) rotate(-45)" font-size="18.6" text-anchor="end" fill="#262626" style="stroke:none">Cell wall/membrane/envelope biogenesis</text>
<text transform="translate(1217.3 2004) scale(1.19 1) rotate(-45)" font-size="18.6" text-anchor="end" fill="#262626" style="stroke:none">Cell motility</text>
<text transform="translate(1300.8 2004) scale(1.19 1) rotate(-45)" font-size="18.6" text-anchor="end" fill="#262626" style="stroke:none">Posttranslational modification, protein turnover, chaperones</text>
<text transform="translate(1384.3 2004) scale(1.19 1) rotate(-45)" font-size="18.6" text-anchor="end" fill="#262626" style="stroke:none">Inorganic ion transport and metabolism</text>
<text transform="translate(1467.8 2004) scale(1.19 1) rotate(-45)" font-size="18.6" text-anchor="end" fill="#262626" style="stroke:none">Secondary metabolites biosynthesis, transport and catabolism</text>
<text transform="translate(1551.2 2004) scale(1.19 1) rotate(-45)" font-size="18.6" text-anchor="end" fill="#262626" style="stroke:none">General function prediction only</text>
<text transform="translate(1634.7 2004) scale(1.19 1) rotate(-45)" font-size="18.6" text-anchor="end" fill="#262626" style="stroke:none">Function unknown</text>
<text transform="translate(1718.2 2004) scale(1.19 1) rotate(-45)" font-size="18.6" text-anchor="end" fill="#262626" style="stroke:none">Signal transduction mechanisms</text>
<text transform="translate(1801.7 2004) scale(1.19 1) rotate(-45)" font-size="18.6" text-anchor="end" fill="#262626" style="stroke:none">Intracellular trafficking, secretion, and vesicular transport</text>
<text transform="translate(1885.2 2004) scale(1.19 1) rotate(-45)" font-size="18.6" text-anchor="end" fill="#262626" style="stroke:none">Defense mechanisms</text>
<rect x="1946.8" y="1312.4" width="13.6" height="12.4" fill="#ffffff" stroke="#1c1c1c" stroke-width="1.8"/>
<text x="1966" y="1326.0" font-size="22.4" fill="#222">C1</text>
<rect x="1946.8" y="1374.9" width="13.6" height="12.4" fill="#c6c6c6" stroke="#1c1c1c" stroke-width="1.8"/>
<text x="1966" y="1388.5" font-size="22.4" fill="#222">C2</text>
<rect x="1946.8" y="1437.4" width="13.6" height="12.4" fill="#989898" stroke="#1c1c1c" stroke-width="1.8"/>
<text x="1966" y="1451.0" font-size="22.4" fill="#222">C3</text>
<rect x="1946.8" y="1499.9" width="13.6" height="12.4" fill="#808080" stroke="#1c1c1c" stroke-width="1.8"/>
<text x="1966" y="1513.5" font-size="22.4" fill="#222">C4</text>
<rect x="1946.8" y="1562.4" width="13.6" height="12.4" fill="#363636" stroke="#1c1c1c" stroke-width="1.8"/>
<text x="1966" y="1576.0" font-size="22.4" fill="#222">C5</text>
</g>
</svg></body></html>
